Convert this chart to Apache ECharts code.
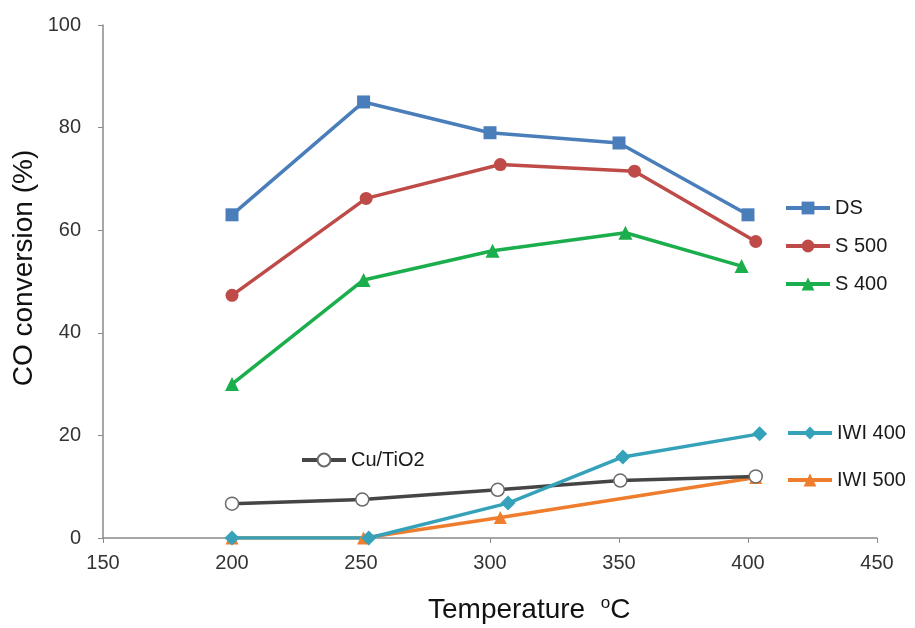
<!DOCTYPE html>
<html>
<head>
<meta charset="utf-8">
<script src="https://cdn.jsdelivr.net/npm/echarts@6/dist/echarts.min.js"></script>
<style>
  html, body { margin: 0; padding: 0; background: #fff; }
  #chart { width: 915px; height: 628px; }
</style>
</head>
<body>
<div id="chart"></div>
<script>
// CO conversion vs. temperature for each catalyst
const dsX = [200, 251, 300, 350, 400];
const dsY = [63, 85, 79, 77, 63];
const s500X = [200, 252, 304, 356, 403];
const s500Y = [47.3, 66.2, 72.8, 71.5, 57.8];
const s400X = [200, 251, 301, 352.5, 397.5];
const s400Y = [30, 50.3, 56, 59.5, 53];
const cuX = [200, 250.5, 303, 350.5, 403];
const cuY = [6.7, 7.5, 9.4, 11.2, 12];
const iwi400X = [200, 253, 307, 351.5, 404.5];
const iwi400Y = [0, 0, 6.8, 15.8, 20.3];
const iwi500X = [200, 251, 304, 403];
const iwi500Y = [0, 0, 4.0, 11.8];

const xTicks = [150, 200, 250, 300, 350, 400, 450];
const yTicks = [0, 20, 40, 60, 80, 100];

const xTitle = 'Temperature';
const yTitle = 'CO conversion (%)';

const pairs = (xs, ys) => xs.map((x, i) => [x, ys[i]]);

const FONT = 'Liberation Sans';

function lineSeries(name, xs, ys, color, symbol, size, extra) {
  return Object.assign({
    name: name,
    type: 'line',
    data: pairs(xs, ys),
    symbol: symbol,
    symbolSize: size,
    lineStyle: { color: color, width: 3.5 },
    itemStyle: { color: color },
    z: 2
  }, extra || {});
}

const chart = echarts.init(document.getElementById('chart'), null, { renderer: 'canvas' });

const legendText = { fontFamily: FONT, fontSize: 20, color: '#1a1a1a' };
const legendBase = {
  orient: 'vertical',
  itemWidth: 44, itemHeight: 16,
  padding: 0,
  lineStyle: { width: 4 },
  textStyle: legendText
};

chart.setOption({
  animation: false,
  backgroundColor: '#ffffff',
  grid: { left: 103, right: 38, top: 25, bottom: 90 },
  legend: [
    Object.assign({}, legendBase, {
      data: ['DS', 'S 500', 'S 400'],
      left: 784, top: 198, itemGap: 18
    }),
    Object.assign({}, legendBase, {
      data: ['IWI 400', 'IWI 500'],
      left: 786, top: 423, itemGap: 27
    }),
    Object.assign({}, legendBase, {
      data: ['Cu/TiO2'],
      left: 300, top: 450
    })
  ],
  graphic: [
    {
      type: 'text',
      left: 428, top: 595,
      style: {
        text: xTitle + '  {sup|o}C',
        fontFamily: FONT, fontSize: 28, fill: '#111',
        rich: { sup: { fontFamily: FONT, fontSize: 17, fill: '#111', verticalAlign: 'top', padding: [0, 0, 14, 0] } }
      }
    },
    {
      type: 'text',
      x: 24, y: 268,
      rotation: Math.PI / 2,
      style: {
        text: yTitle,
        fontFamily: FONT, fontSize: 28, fill: '#111',
        align: 'center', verticalAlign: 'middle'
      }
    }
  ],
  xAxis: {
    type: 'value',
    min: xTicks[0], max: xTicks[xTicks.length - 1], interval: 50,
    splitLine: { show: false },
    axisLine: { lineStyle: { color: '#8a8a8a', width: 1.5 } },
    axisTick: { show: true, length: 5, lineStyle: { color: '#8a8a8a' } },
    axisLabel: { fontFamily: FONT, fontSize: 20, color: '#333', margin: 15 }
  },
  yAxis: {
    type: 'value',
    min: yTicks[0], max: yTicks[yTicks.length - 1], interval: 20,
    splitLine: { show: false },
    axisLine: { show: true, lineStyle: { color: '#8a8a8a', width: 1.5 } },
    axisTick: { show: true, length: 5, lineStyle: { color: '#8a8a8a' } },
    axisLabel: { fontFamily: FONT, fontSize: 20, color: '#333', margin: 22 }
  },
  series: [
    lineSeries('DS', dsX, dsY, '#4A7EBB', 'rect', 13),
    lineSeries('S 500', s500X, s500Y, '#BE4B48', 'circle', 13),
    lineSeries('S 400', s400X, s400Y, '#1BAE4C', 'triangle', 14),
    lineSeries('IWI 500', iwi500X, iwi500Y, '#EE7D2E', 'triangle', 13),
    lineSeries('Cu/TiO2', cuX, cuY, '#454545', 'circle', 13, {
      itemStyle: { color: '#ffffff', borderColor: '#6a6a6a', borderWidth: 1.5 }
    }),
    lineSeries('IWI 400', iwi400X, iwi400Y, '#36A2BA', 'diamond', 15)
  ]
});
</script>
</body>
</html>
